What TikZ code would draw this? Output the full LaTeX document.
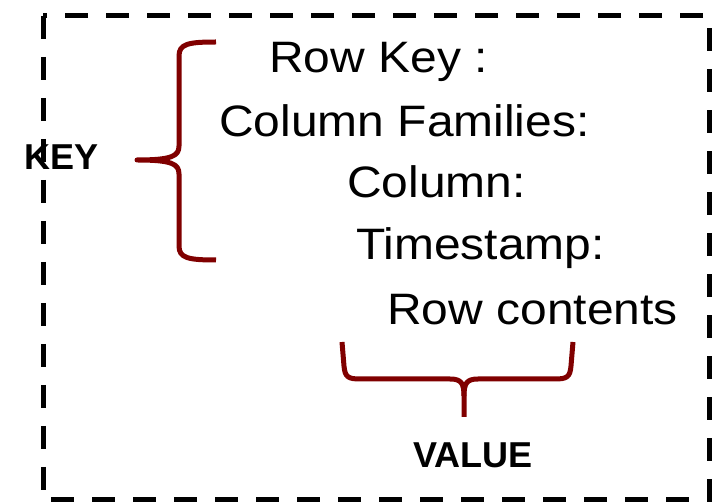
\documentclass[tikz,border=0pt]{standalone}
\usepackage{fontspec}
\setmainfont{Liberation Sans}
\definecolor{bracered}{RGB}{128,0,0}
\tikzset{
  frame/.style={line width=5pt, dash pattern=on 23pt off 18pt},
  field/.style={anchor=base west, inner sep=0pt, font=\fontsize{44}{50}\selectfont},
  tag/.style={anchor=base west, inner sep=0pt, font=\fontsize{36}{40}\selectfont\bfseries},
  brace/.style={line width=5pt, draw=bracered, line join=round}
}
\newcommand{\wide}[1]{\scalebox{1.09}[1]{#1}}
\begin{document}
\begin{tikzpicture}[x=1pt, y=-1pt]
  \useasboundingbox (0,0) rectangle (716,502);
  % dashed outer frame
  \draw[frame] (43,16) rectangle (709,500);

  % record fields
  \node[field] (rowkey) at (269,73) {\wide{Row Key :}};
  \node[field] (colfam) at (219,137) {\wide{Column Families:}};
  \node[field] (col)    at (347,198) {\wide{Column:}};
  \node[field] (ts)     at (356,260) {\wide{Timestamp:}};
  \node[field] (rowc)   at (387,325) {\wide{Row contents}};

  % labels
  \node[tag] (key)   at (24,170) {KEY};
  \node[tag] (value) at (413,468) {VALUE};

  % left brace grouping the key fields
  \draw[brace] (216,42) .. controls (188,42) and (179,44) .. (179,56)
    -- (179,146) .. controls (179,156) and (172,160) .. (137,160)
    .. controls (172,160) and (179,164) .. (179,174)
    -- (179,246) .. controls (179,258) and (188,260) .. (216,260);

  % bottom brace under the value field
  \draw[brace] (342,342) -- (344,366) .. controls (345,377) and (348,379) .. (360,379)
    -- (450,379) .. controls (461,379) and (464,383) .. (464,396) -- (464,417);
  \draw[brace] (573,342) -- (571,366) .. controls (570,377) and (567,379) .. (555,379)
    -- (478,379) .. controls (467,379) and (464,383) .. (464,396);
\end{tikzpicture}
\end{document}
